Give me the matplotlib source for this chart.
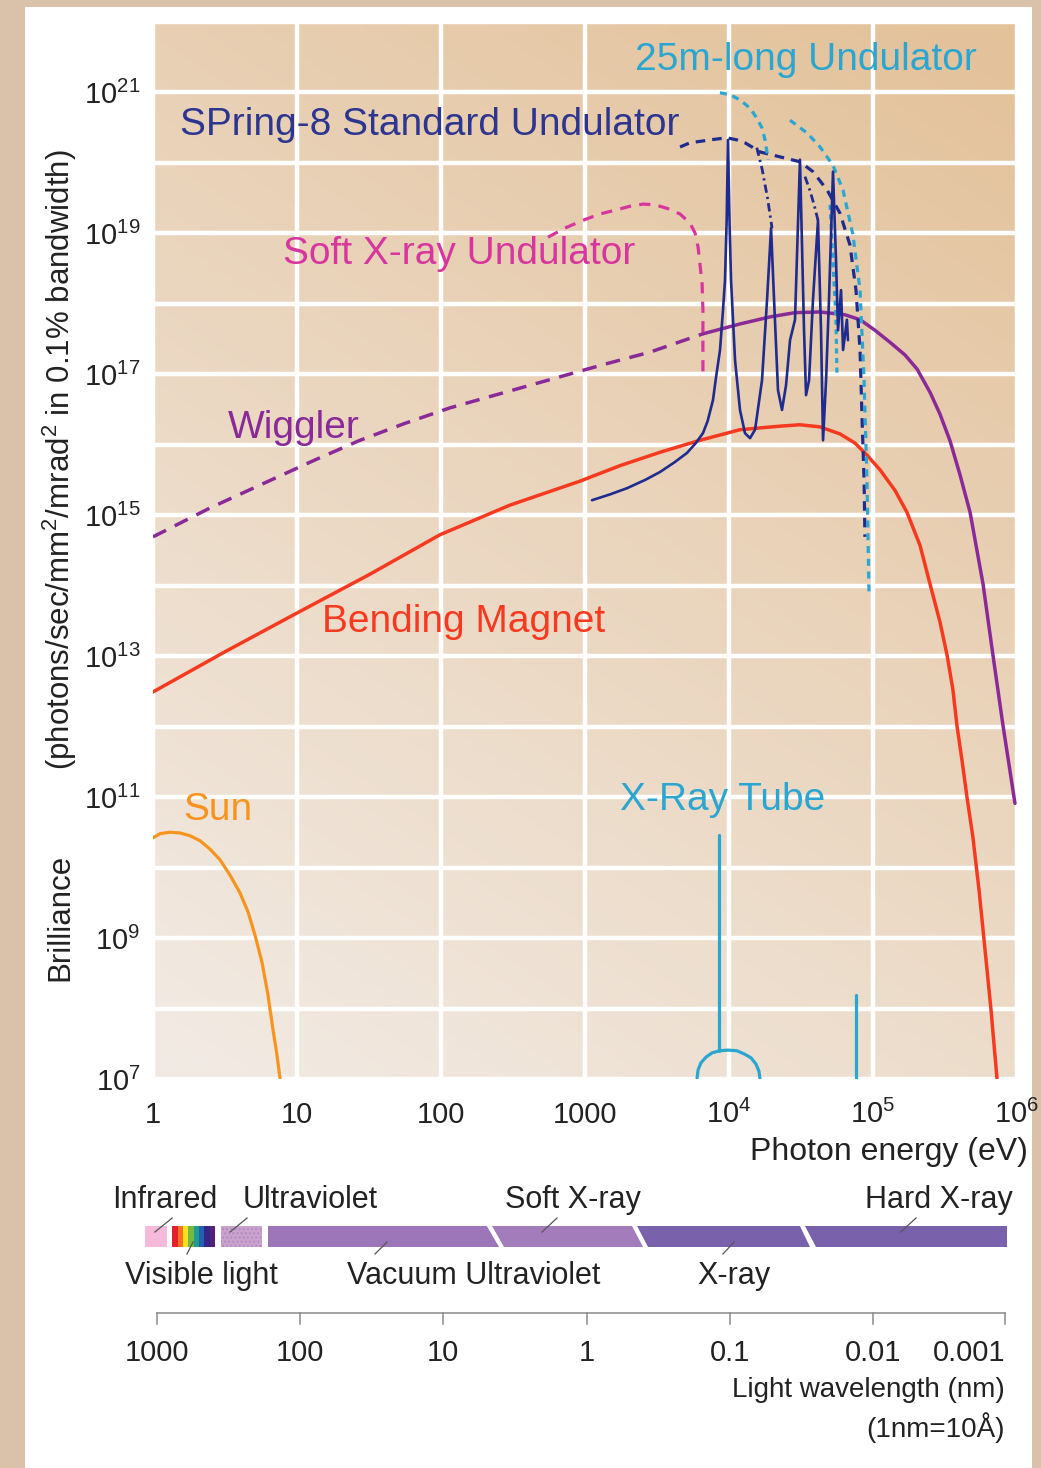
#!/usr/bin/env python3
"""Brilliance of light sources vs photon energy, with the spectrum band below."""

import matplotlib
matplotlib.use("Agg")
import matplotlib.pyplot as plt  # noqa: E402
import numpy as np
from matplotlib.patches import Polygon, Rectangle
from matplotlib.ticker import FixedLocator, NullLocator

# ---------------------------------------------------------------------------
# Data: photon energy (eV) and log10 brilliance
# ---------------------------------------------------------------------------
sun_ev = [1.0, 1.12, 1.31, 1.54, 1.81, 2.12, 2.49, 2.92, 3.43, 4.02, 4.57,
          5.11, 5.71, 6.29, 6.81, 7.26, 7.62]
sun_log = [10.42, 10.48, 10.50, 10.49, 10.45, 10.38, 10.26, 10.11, 9.89, 9.64,
           9.37, 9.04, 8.66, 8.19, 7.70, 7.34, 7.01]

bm_ev = [1, 3.16, 10, 32.1, 98.4, 301, 923, 1750, 3320, 6290, 11920, 22600,
         31100, 42850, 59000, 75000, 90800, 112000, 142000, 172000, 212000,
         249000, 292000, 327000, 359000, 383000, 415000, 450000, 494000,
         545000, 600000, 660000, 726000]
bm_log = [12.49, 13.06, 13.61, 14.16, 14.72, 15.14, 15.48, 15.70, 15.89, 16.06,
          16.21, 16.26, 16.28, 16.25, 16.15, 16.02, 15.85, 15.64, 15.35, 15.04,
          14.57, 14.02, 13.48, 13.01, 12.52, 12.01, 11.52, 10.99, 10.43, 9.68,
          8.83, 7.98, 7.01]

wig_dash_ev = [1, 2.49, 6.19, 13.3, 27.4, 56.2, 115.5, 278, 670, 1377, 2825, 6590]
wig_dash_log = [14.69, 15.10, 15.47, 15.78, 16.06, 16.30, 16.52, 16.74, 16.96,
                17.14, 17.31, 17.57]
wig_ev = [6590, 11920, 19280, 28730, 42850, 63970, 81300, 103300, 131200,
          166800, 202300, 249000, 292000, 343000, 402000, 472000, 581000,
          681000, 800000, 968000]
wig_log = [17.57, 17.71, 17.81, 17.87, 17.88, 17.84, 17.77, 17.62, 17.45, 17.27,
           17.07, 16.74, 16.43, 16.05, 15.57, 15.04, 14.02, 13.01, 12.01, 10.91]

soft_ev = [553, 726, 968, 1271, 1668, 2055, 2530, 3060, 3710, 4570, 5360, 5810,
           6100, 6290, 6500, 6590, 6590, 6590]
soft_log = [18.94, 19.07, 19.18, 19.27, 19.33, 19.38, 19.41, 19.40, 19.35, 19.27,
            19.14, 19.00, 18.80, 18.55, 18.29, 17.91, 17.48, 16.96]

std_env_ev = [4570, 5360, 6300, 8000, 9680, 11370, 12900, 14450, 16400, 22600,
              31100, 38300, 48000, 59000, 69200, 76200, 81300, 84000, 86700, 87900]
std_env_log = [20.22, 20.28, 20.30, 20.33, 20.35, 20.32, 20.28, 20.22, 20.15,
               20.08, 20.01, 19.87, 19.61, 19.28, 18.83, 18.19, 17.34, 16.35,
               15.50, 14.69]
std_drop1_ev = [15600, 17000, 18500, 19900]
std_drop1_log = [20.21, 19.90, 19.50, 19.07]
std_drop2_ev = [33700, 36500, 39000, 41500]
std_drop2_log = [19.80, 19.60, 19.40, 19.18]

std_ev = [1119, 1480, 1958, 2630, 3319, 4200, 5106, 5880, 6590, 7100, 7740,
          8160, 8660, 9080, 9380, 9640, 9840, 10100, 10330, 11010, 11920, 12910,
          14000, 15170, 16950, 18370, 19590, 20560, 21890, 23340, 24890, 26540,
          28730, 31110, 33190, 34280, 35970, 38290, 41500, 43550, 44980, 47210,
          49460, 52750, 55340, 57150, 59980, 61950, 65900, 67000]
std_log = [15.21, 15.29, 15.38, 15.50, 15.61, 15.75, 15.88, 16.02, 16.16, 16.33,
           16.63, 16.98, 17.34, 17.90, 18.33, 19.20, 20.32, 19.10, 18.33, 17.20,
           16.49, 16.16, 16.09, 16.21, 16.91, 18.05, 19.07, 18.05, 16.77, 16.49,
           16.84, 17.48, 17.77, 20.04, 17.62, 16.70, 16.91, 18.05, 19.18, 17.62,
           16.06, 16.91, 18.05, 19.87, 18.62, 17.62, 18.19, 17.34, 17.77, 17.48]

long1_ev = [8660, 10160, 11900, 14000, 15600, 16950, 17800, 18700]
long1_log = [20.99, 20.96, 20.89, 20.77, 20.63, 20.49, 20.32, 20.04]
long2_ev = [26500, 34800, 42900, 52700, 61900, 72600, 81300, 86700, 90800, 93800]
long2_log = [20.60, 20.42, 20.22, 19.96, 19.61, 18.97, 18.19, 16.91, 15.50, 13.91]
long3_ev = [50300, 52700, 55300, 56200]
long3_log = [19.40, 18.62, 17.77, 16.99]

tube_line1_ev = [8520, 8520]
tube_line1_log = [10.46, 7.40]
tube_arc_ev = [6000, 6100, 6390, 6920, 7620, 8530, 9840, 11370, 12910, 14220,
               15410, 16140, 16400]
tube_arc_log = [7.01, 7.13, 7.23, 7.31, 7.37, 7.40, 7.41, 7.40, 7.35, 7.30, 7.21,
                7.11, 7.01]
tube_line2_ev = [76200, 76200]
tube_line2_log = [8.19, 7.0]

x_ticks = [1, 10, 100, 1000, 1e4, 1e5, 1e6]
x_ticklabels = ["1", "10", "100", "1000", r"$\mathregular{10^4}$",
                r"$\mathregular{10^5}$", r"$\mathregular{10^6}$"]
y_exponents = list(range(7, 23))

# spectrum band: edges in eV (top / bottom of the slanted joints)
band_lo_top = [0.88, 1.36, 2.97, 6.29, 226, 2300, 33700]
band_lo_bot = [0.88, 1.36, 2.97, 6.29, 274, 2740, 40200]
band_hi_top = [1.25, 2.7, 5.71, 208, 2120, 31100, 853000]
band_hi_bot = [1.25, 2.7, 5.71, 253, 2530, 36500, 853000]
band_colors = ["#f7b9da", None, "#c9a2cd", "#9c76b8", "#a27cbb", "#7a61ac", "#7a61ac"]
rainbow = ["#e3202b", "#f4711f", "#f6e21c", "#74b943", "#1d9d8f", "#2261b0",
           "#35268a", "#55207a"]

band_labels = ["Infrared", "Ultraviolet", "Soft X-ray", "Hard X-ray",
               "Visible light", "Vacuum Ultraviolet", "X-ray"]
band_label_ev = [0.519, 4.22, 278, 938000, 0.64, 22.2, 6000]
band_label_row = ["top", "top", "top", "top", "bot", "bot", "bot"]
leader_ev = [(1.36, 1.03), (4.5, 3.43), (639, 503), (199000, 156000),
             (1.9, 1.72), (42.2, 34.8), (10840, 9080)]

wl_labels = ["1000", "100", "10", "1", "0.1", "0.01", "0.001"]
wl_pos_ev = [1.07, 10.5, 103, 1032, 10160, 1e5, 826000]

# ---------------------------------------------------------------------------
# Figure
# ---------------------------------------------------------------------------
plt.rcParams["font.family"] = ["Liberation Sans", "DejaVu Sans"]
NARROW = ["Liberation Sans Narrow", "Liberation Sans", "DejaVu Sans"]

W, H = 1041, 1468
fig = plt.figure(figsize=(W / 100, H / 100), dpi=100, facecolor="#d9c2a9")
fig.patches.append(Rectangle((25 / W, 0), 1007 / W, 1461 / H,
                             transform=fig.transFigure, facecolor="white",
                             edgecolor="none", zorder=-10))

rect = [153 / W, 1 - 1079 / H, 864 / W, 1057.5 / H]

# gradient background
bg = fig.add_axes(rect, zorder=0)
u, v = np.meshgrid(np.linspace(0, 1, 80), np.linspace(0, 1, 80))
t = 0.35 * u + 0.65 * v
light = np.array([242, 235, 229]) / 255
dark = np.array([227, 193, 153]) / 255
grad = light[None, None, :] * (1 - t[..., None]) + dark[None, None, :] * t[..., None]
bg.imshow(grad, origin="lower", extent=(0, 1, 0, 1), aspect="auto",
          interpolation="bicubic")
bg.axis("off")

ax = fig.add_axes(rect, zorder=1)
ax.set_facecolor("none")
ax.set_xscale("log")
ax.set_yscale("log")
ax.set_xlim(1, 1e6)
ax.set_ylim(1e7, 1e22)
ax.xaxis.set_major_locator(FixedLocator(x_ticks))
ax.xaxis.set_minor_locator(NullLocator())
ax.set_xticklabels(x_ticklabels)
ax.yaxis.set_major_locator(FixedLocator([10.0 ** k for k in y_exponents]))
ax.yaxis.set_minor_locator(NullLocator())
ax.set_yticklabels([r"$\mathregular{10^{%d}}$" % k if k % 2 == 1 else ""
                    for k in y_exponents])
ax.grid(True, which="major", color="white", lw=3.2)
ax.set_axisbelow(True)
for s in ax.spines.values():
    s.set_visible(False)
ax.tick_params(axis="both", length=0, labelsize=21, labelcolor="#222222")
ax.tick_params(axis="x", pad=32)
ax.tick_params(axis="y", pad=9)
for lab in ax.get_xticklabels() + ax.get_yticklabels():
    lab.set_family(NARROW)
for lab in ax.get_xticklabels():
    lab.set_va("baseline")


def curve(xs, logs, **kw):
    ax.plot(xs, np.power(10.0, logs), solid_capstyle="round",
            solid_joinstyle="round", zorder=3, **kw)


ORANGE = "#f7941e"
RED = "#f6391f"
PURPLE = "#8a2a98"
MAGENTA = "#d6369e"
NAVY = "#1f2b8e"
CYAN = "#2aa6d1"

curve(sun_ev, sun_log, color=ORANGE, lw=2.3)
curve(bm_ev, bm_log, color=RED, lw=2.5)
curve(wig_dash_ev, wig_dash_log, color=PURPLE, lw=2.5, dashes=(4.2, 2.8))
curve(wig_ev, wig_log, color=PURPLE, lw=2.5)
curve(soft_ev, soft_log, color=MAGENTA, lw=2.3, dashes=(3.5, 2.6))
curve(std_env_ev, std_env_log, color=NAVY, lw=2.3, dashes=(3.0, 2.2))
curve(std_drop1_ev, std_drop1_log, color=NAVY, lw=2.0, dashes=(3.0, 1.5, 0.8, 1.5))
curve(std_drop2_ev, std_drop2_log, color=NAVY, lw=2.0, dashes=(3.0, 1.5, 0.8, 1.5))
curve(long1_ev, long1_log, color=CYAN, lw=2.3, dashes=(2.2, 1.8))
curve(long2_ev, long2_log, color=CYAN, lw=2.3, dashes=(2.2, 1.8))
curve(long3_ev, long3_log, color=CYAN, lw=2.3, dashes=(1.6, 1.4))
curve(std_ev, std_log, color=NAVY, lw=1.9)
curve(tube_line1_ev, tube_line1_log, color=CYAN, lw=2.3)
curve(tube_arc_ev, tube_arc_log, color=CYAN, lw=2.3)
curve(tube_line2_ev, tube_line2_log, color=CYAN, lw=2.3)

# curve labels
label_kw = dict(fontsize=28, ha="left", va="center", zorder=4)
ax.text(2223, 10 ** 21.45, "25m-long Undulator", color=CYAN, **label_kw)
ax.text(1.54, 10 ** 20.53, "SPring-8 Standard Undulator", color="#2c3590", **label_kw)
ax.text(8.0, 10 ** 18.70, "Soft X-ray Undulator", color=MAGENTA, **label_kw)
ax.text(3.32, 10 ** 16.23, "Wiggler", color=PURPLE, **label_kw)
ax.text(14.9, 10 ** 13.48, "Bending Magnet", color=RED, **label_kw)
ax.text(1.62, 10 ** 10.82, "Sun", color=ORANGE, **label_kw)
ax.text(1750, 10 ** 10.96, "X-Ray Tube", color=CYAN, **label_kw)

# axis titles
fig.text(60 / W, 1 - 917 / H, "Brilliance", rotation=90, ha="center",
         va="center", fontsize=22.5, color="#222222")
fig.text(60 / W, 1 - 460 / H,
         r"(photons/sec/mm$\mathregular{^2}$/mrad$\mathregular{^2}$ in 0.1% bandwidth)",
         rotation=90, ha="center", va="center", fontsize=22.5, color="#222222")
fig.text(1028 / W, 1 - 1152 / H, "Photon energy (eV)", ha="right",
         va="center", fontsize=23, color="#222222")

# ---------------------------------------------------------------------------
# Spectrum band and wavelength scale (y in image rows)
# ---------------------------------------------------------------------------
ax2 = fig.add_axes([rect[0], 0, rect[2], 308 / H], zorder=2)
ax2.set_xscale("log")
ax2.set_xlim(1, 1e6)
ax2.set_ylim(H, 1160)
ax2.axis("off")

TOP, BOT = 1226, 1247
for i, col in enumerate(band_colors):
    if col is None:
        edges = np.geomspace(band_lo_top[i], band_hi_top[i], len(rainbow) + 1)
        for c, x0, x1 in zip(rainbow, edges[:-1], edges[1:]):
            ax2.add_patch(Rectangle((x0, TOP), x1 - x0, BOT - TOP, facecolor=c,
                                    edgecolor="none", clip_on=False))
        continue
    xy = [(band_lo_top[i], TOP), (band_hi_top[i], TOP),
          (band_hi_bot[i], BOT), (band_lo_bot[i], BOT)]
    hatch = "...." if i == 2 else None
    ax2.add_patch(Polygon(xy, closed=True, facecolor=col,
                          edgecolor="#b58cc2" if hatch else "none",
                          lw=0, hatch=hatch, clip_on=False))

for name, xe, row, (la, lb) in zip(band_labels, band_label_ev, band_label_row, leader_ev):
    y = 1200 if row == "top" else 1276
    ha = "right" if name == "Hard X-ray" else "left"
    ax2.text(xe, y, name, ha=ha, va="center", fontsize=22, color="#222222",
             clip_on=False)
    if row == "top":
        ax2.plot([la, lb], [1218, 1232], color="#555555", lw=0.9, clip_on=False)
    else:
        ax2.plot([la, lb], [1242, 1254], color="#555555", lw=0.9, clip_on=False)

ax2.plot([wl_pos_ev[0], wl_pos_ev[-1]], [1313, 1313], color="#8a8a8a", lw=1.1,
         clip_on=False)
for xe, lab in zip(wl_pos_ev, wl_labels):
    ax2.plot([xe, xe], [1313, 1324], color="#8a8a8a", lw=1.1, clip_on=False)
    ha = "right" if lab == "0.001" else "center"
    ax2.text(xe, 1353, lab, ha=ha, va="center", fontsize=21, family=NARROW,
             color="#222222", clip_on=False)
ax2.text(wl_pos_ev[-1], 1390, "Light wavelength (nm)", ha="right", va="center",
         fontsize=20, family=NARROW, color="#222222")
ax2.text(wl_pos_ev[-1], 1428, "(1nm=10Å)", ha="right", va="center",
         fontsize=20, family=NARROW, color="#222222")

fig.savefig("out.png", dpi=100)
